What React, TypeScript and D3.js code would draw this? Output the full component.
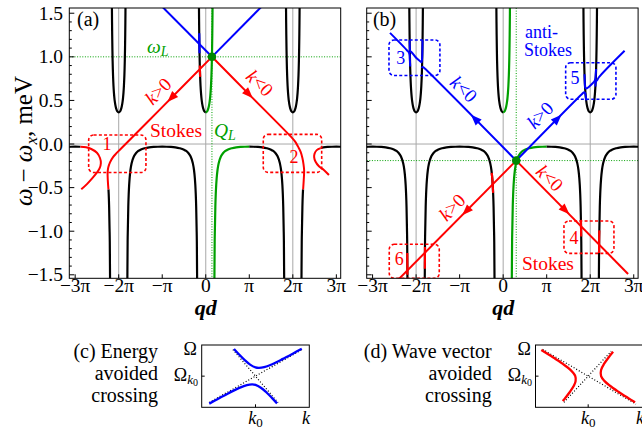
import React from "react";
import * as d3 from "d3";

type P = [number, number];

// ---------------- data (qd in units of π, energy ω-ωx in meV) ----------------
const xTickVals = [-3, -2, -1, 0, 1, 2, 3];
const xTickLabels = ["−3π", "−2π", "−π", "0", "π", "2π", "3π"];
const yTickVals = [-1.5, -1, -0.5, 0, 0.5, 1, 1.5];
const yTickLabels = ["−1.5", "−1.0", "−0.5", "0.0", "0.5", "1.0", "1.5"];
const yMinorVals = [-1.5, -1.4, -1.3, -1.2, -1.1, -1, -0.9, -0.8, -0.7, -0.6, -0.5, -0.4, -0.3, -0.2, -0.1, 0, 0.1, 0.2, 0.3, 0.4, 0.5, 0.6, 0.7, 0.8, 0.9, 1, 1.1, 1.2, 1.3, 1.4, 1.5];
const gridQ = [-2, 0, 2];

// upper polariton band, half shape: [offset from 2πn, E]
const upperHalf: P[] = [[0, 0.362], [0.03, 0.373], [0.05, 0.394], [0.07, 0.43], [0.09, 0.489], [0.1, 0.533], [0.11, 0.59], [0.12, 0.669], [0.13, 0.782], [0.135, 0.86], [0.14, 0.958], [0.145, 1.086], [0.15, 1.259], [0.153, 1.395], [0.155, 1.505], [0.157, 1.64]];
// lower polariton band, half arch: [offset from (2n+1)π, E]
const lowerHalf: P[] = [[0, -0.03], [0.1, -0.031], [0.2, -0.0335], [0.3, -0.0386], [0.4, -0.048], [0.5, -0.065], [0.55, -0.08], [0.6, -0.103], [0.65, -0.141], [0.7, -0.214], [0.73, -0.298], [0.75, -0.396], [0.76, -0.469], [0.77, -0.571], [0.78, -0.724], [0.79, -0.975], [0.795, -1.12], [0.8, -1.458], [0.803, -1.7]];

// panel (a): pump at ωL
const pumpA: P = [0.142, 1.0];
const blueA: P[][] = [[[0.142, 1.0], [-1.05, 1.6]], [[0.142, 1.0], [1.33, 1.6]]];
const redA_left: P[] = [[0.142, 1.0], [-1.0, 0.423], [-1.95, -0.055], [-2.05, -0.105], [-2.13, -0.15], [-2.2, -0.21], [-2.24, -0.27], [-2.255, -0.33], [-2.25, -0.42], [-2.236, -0.52]];
const redA_C: P[] = [[-2.88, -0.031], [-2.75, -0.038], [-2.62, -0.06], [-2.5, -0.1], [-2.43, -0.16], [-2.41, -0.22], [-2.44, -0.28], [-2.52, -0.34], [-2.62, -0.4], [-2.73, -0.46], [-2.86, -0.52]];
const redA_right: P[] = [[0.142, 1.0], [1.0, 0.567], [1.95, 0.087], [2.05, 0.03], [2.12, -0.03], [2.18, -0.09], [2.22, -0.16], [2.245, -0.23], [2.26, -0.3], [2.25, -0.42], [2.237, -0.52]];
const redA_paren: P[] = [[2.64, -0.047], [2.55, -0.07], [2.5, -0.11], [2.49, -0.15], [2.52, -0.2], [2.6, -0.255], [2.72, -0.3], [2.83, -0.355]];
const arrowsA = [{ tip: [-0.8, 0.524] as P, color: "#ff0000" }, { tip: [1.0, 0.567] as P, color: "#ff0000" }];
const boxesA = [{ q: [-2.69, -1.374], e: [0.103, -0.327], n: "1", at: [-2.267, -0.07] as P }, { q: [1.321, 2.663], e: [0.111, -0.325], n: "2", at: [2.026, -0.215] as P }];

// panel (b): pump below the exciton
const pumpB: P = [0.3, -0.19];
// anti-Stokes branches (energy avoided crossings in boxes 3 and 5)
const blueB_3a: P[] = [[-2.6, 1.275], [-2.2, 1.07], [-2.163, 1.046], [-2.148, 1.02], [-2.144, 0.98], [-2.139, 0.93], [-2.136, 0.89]];
const blueB_3b: P[] = [[-2.149, 1.19], [-2.146, 1.12], [-2.141, 1.08], [-2.13, 1.062], [-2.1, 1.05], [-2.0, 0.99], [-1.9, 0.948], [-1.875, 0.938], [-1.866, 0.96], [-1.86, 1.0], [-1.855, 1.1], [-1.852, 1.19]];
const blueB_3c: P[] = [[-1.864, 0.87], [-1.858, 0.882], [-1.84, 0.882], [-1.8, 0.866], [0.3, -0.19]];
const blueB_5a: P[] = [[0.3, -0.19], [1.8, 0.568], [1.862, 0.595], [1.88, 0.588], [1.889, 0.572], [1.897, 0.55], [1.908, 0.5]];
const blueB_5b: P[] = [[1.869, 0.8], [1.874, 0.72], [1.879, 0.672], [1.888, 0.645], [1.91, 0.636], [1.96, 0.652], [2.05, 0.694], [2.1, 0.722], [2.116, 0.745], [2.124, 0.78], [2.135, 0.86]];
const blueB_5c: P[] = [[2.119, 0.66], [2.123, 0.698], [2.135, 0.72], [2.16, 0.732], [2.2, 0.766], [2.79, 1.07]];
const redB: P[][] = [[[0.3, -0.19], [-2.4, -1.55]], [[0.3, -0.19], [2.87, -1.49]]];
const arrowsB = [
  { tip: [-0.66, 0.295] as P, color: "#0000ff" }, { tip: [1.26, 0.295] as P, color: "#0000ff" },
  { tip: [-0.86, -0.776] as P, color: "#ff0000" }, { tip: [1.44, -0.766] as P, color: "#ff0000" },
];
const boxesB = [
  { q: [-2.623, -1.453], e: [1.193, 0.786], n: "3", at: [-2.35, 0.92] as P, c: "#0000ff" },
  { q: [1.436, 2.591], e: [0.932, 0.513], n: "5", at: [1.65, 0.69] as P, c: "#0000ff" },
  { q: [1.397, 2.545], e: [-0.883, -1.254], n: "4", at: [1.63, -1.145] as P, c: "#ff0000" },
  { q: [-2.617, -1.468], e: [-1.15, -1.54], n: "6", at: [-2.39, -1.385] as P, c: "#ff0000" },
];

// schematic (c): energy avoided crossing, unit coords
const cUpper: P[] = [[0.3, 0.937], [0.35, 0.844], [0.4, 0.758], [0.45, 0.685], [0.5, 0.64], [0.53, 0.632], [0.58, 0.643], [0.65, 0.688], [0.75, 0.773], [0.85, 0.865], [0.93, 0.941]];
const cLower: P[] = [[0.07, 0.059], [0.15, 0.135], [0.25, 0.227], [0.35, 0.312], [0.42, 0.357], [0.47, 0.368], [0.5, 0.36], [0.55, 0.315], [0.6, 0.242], [0.65, 0.156], [0.7, 0.063]];
const cDot: P[][] = [[[0.07, 0.076], [0.93, 0.924]], [[0.29, 0.926], [0.71, 0.074]]];
// schematic (d): wave vector avoided crossing
const dLeft: P[] = [[0.054, 0.92], [0.165, 0.8], [0.251, 0.7], [0.325, 0.6], [0.37, 0.5], [0.373, 0.42], [0.358, 0.35], [0.321, 0.25], [0.277, 0.15], [0.253, 0.1]];
const dRight: P[] = [[0.722, 0.89], [0.68, 0.8], [0.639, 0.7], [0.61, 0.6], [0.61, 0.5], [0.643, 0.42], [0.689, 0.35], [0.771, 0.25], [0.861, 0.15], [0.926, 0.08]];
const dDot: P[][] = [[[0.066, 0.93], [0.934, 0.05]], [[0.265, 0.08], [0.704, 0.9]]];

// ---------------- helpers ----------------
const RED = "#ff0000", BLUE = "#0000ff", GREEN = "#00a000", GRAY = "#a8a8a8";
const FONT = "'Liberation Serif', 'Times New Roman', serif";
const FS = 19.5;

const rightOf = (half: P[], c: number): P[] => half.map(([u, e]) => [c + u, e] as P);
const leftOf = (half: P[], c: number): P[] => half.map(([u, e]) => [c - u, e] as P).reverse();
const full = (half: P[], c: number): P[] => [...leftOf(half, c), ...rightOf(half, c).slice(1)];

function subBy(pts: P[], k: 0 | 1, lo: number, hi: number): P[] {
  const out: P[] = [];
  for (let i = 0; i < pts.length; i++) {
    const p = pts[i];
    if (i > 0) {
      const q = pts[i - 1];
      const cr: [number, P][] = [];
      for (const b of [lo, hi]) {
        if ((q[k] - b) * (p[k] - b) < 0) {
          const t = (b - q[k]) / (p[k] - q[k]);
          cr.push([t, [q[0] + t * (p[0] - q[0]), q[1] + t * (p[1] - q[1])]]);
        }
      }
      cr.sort((a, b) => a[0] - b[0]).forEach((c) => out.push(c[1]));
    }
    if (p[k] >= lo && p[k] <= hi) out.push(p);
  }
  return out;
}

const Y0 = 8, Y1 = 278.3;
const yScale = d3.scaleLinear().domain([-1.54, 1.56]).range([Y1, Y0]);

function Panel({ x0, x1, id, children }: { x0: number; x1: number; id: string; children: (xs: d3.ScaleLinear<number, number>) => React.ReactNode }) {
  const xs = d3.scaleLinear().domain([-3.135, 3.1]).range([x0, x1]);
  return (
    <g>
      <defs>
        <clipPath id={"clip" + id}>
          <rect x={x0} y={Y0} width={x1 - x0} height={Y1 - Y0} />
        </clipPath>
      </defs>
      <g clipPath={`url(#clip${id})`}>
        {gridQ.map((q) => <line key={q} x1={xs(q)} x2={xs(q)} y1={Y0} y2={Y1} stroke={GRAY} strokeWidth={1} />)}
        <line x1={x0} x2={x1} y1={yScale(0)} y2={yScale(0)} stroke={GRAY} strokeWidth={1} />
        {children(xs)}
      </g>
      <rect x={x0} y={Y0} width={x1 - x0} height={Y1 - Y0} fill="none" stroke="#000" strokeWidth={1} />
      {yMinorVals.map((v) => {
        const major = Math.abs(v * 2 - Math.round(v * 2)) < 1e-6;
        return <line key={v} x1={x0} x2={x0 + (major ? 5 : 2.5)} y1={yScale(v)} y2={yScale(v)} stroke="#000" strokeWidth={1} />;
      })}
      {xTickVals.map((v) => <line key={v} x1={xs(v)} x2={xs(v)} y1={Y1} y2={Y1 - 4} stroke="#000" strokeWidth={1} />)}
      {xTickVals.map((v, i) => (
        <text key={"l" + v} x={xs(v)} y={291.5} textAnchor="middle" fontSize={FS} fontFamily={FONT}>{xTickLabels[i]}</text>
      ))}
      <text x={xs(0)} y={315} textAnchor="middle" fontSize={22} fontFamily={FONT} fontStyle="italic" fontWeight="bold">qd</text>
    </g>
  );
}

function Curve({ pts, xs, ys, color, w = 2.2, curve = d3.curveMonotoneX, dash }: any) {
  const gen = d3.line<P>().x((d) => xs(d[0])).y((d) => ys(d[1])).curve(curve);
  return <path d={gen(pts) || ""} fill="none" stroke={color} strokeWidth={w} strokeDasharray={dash} strokeLinejoin="round" strokeLinecap="butt" />;
}

function Arrow({ xs, tip, from, color }: any) {
  const x = xs(tip[0]), y = yScale(tip[1]);
  const ang = (Math.atan2(y - yScale(from[1]), x - xs(from[0])) * 180) / Math.PI;
  return <path d="M5,0 L-6,-4.2 L-6,4.2 Z" transform={`translate(${x},${y}) rotate(${ang})`} fill={color} />;
}

function Box({ xs, b, color }: any) {
  const xa = xs(b.q[0]), xb = xs(b.q[1]), ya = yScale(b.e[0]), yb = yScale(b.e[1]);
  return (
    <g>
      <rect x={xa} y={ya} width={xb - xa} height={yb - ya} rx={5} fill="none" stroke={color} strokeWidth={1.6} strokeDasharray="3 2.2" />
      <text x={xs(b.at[0])} y={yScale(b.at[1])} textAnchor="middle" fontSize={18} fontFamily={FONT} fill={color}>{b.n}</text>
    </g>
  );
}

function LineLabel({ xs, at, rot, color, sign }: any) {
  return (
    <text transform={`translate(${xs(at[0])},${yScale(at[1])}) rotate(${rot})`} textAnchor="middle" dominantBaseline="central" fontSize={19} fontFamily={FONT} fill={color}>
      <tspan fontStyle="italic">k</tspan>{sign}0
    </text>
  );
}

export default function App() {
  const ys = yScale;
  const xa0 = 69.3, xa1 = 340.7, xb0 = 366.7, xb1 = 638.1;
  const CR = d3.curveCatmullRom;

  // (c),(d) schematic scales
  const cx = d3.scaleLinear().domain([0, 1]).range([201.7, 309.3]);
  const cy = d3.scaleLinear().domain([0, 1]).range([407.3, 345]);
  const dx = d3.scaleLinear().domain([0, 1]).range([535.5, 643]);
  const dy = cy;

  return (
    <svg width={642} height={433} style={{ position: "absolute", left: 0, top: 0, background: "#fff" }} fontFamily={FONT}>
      <rect width={642} height={433} fill="#fff" />
      {/* y axis label */}
      <text transform="translate(32,141) rotate(-90)" textAnchor="middle" fontSize={25} fontFamily={FONT}>
        <tspan fontStyle="italic">ω</tspan><tspan dx={6}>−</tspan><tspan dx={6} fontStyle="italic">ω</tspan><tspan fontStyle="italic" fontSize={17} dy={5}>x</tspan><tspan dy={-5}>, meV</tspan>
      </text>
      {yTickVals.map((v, i) => (
        <text key={v} x={63} y={ys(v)} textAnchor="end" dominantBaseline="central" fontSize={FS} fontFamily={FONT}>{yTickLabels[i]}</text>
      ))}

      {/* ---------- panel (a) ---------- */}
      <Panel x0={xa0} x1={xa1} id="a">
        {(xs) => (
          <g>
            <line x1={xs(pumpA[0])} x2={xs(pumpA[0])} y1={Y0} y2={Y1} stroke={GREEN} strokeWidth={1} strokeDasharray="1 1.6" />
            <line x1={xa0} x2={xa1} y1={ys(pumpA[1])} y2={ys(pumpA[1])} stroke={GREEN} strokeWidth={1} strokeDasharray="1 1.6" />
            <Curve xs={xs} ys={ys} color="#000" pts={full(upperHalf, -2)} />
            <Curve xs={xs} ys={ys} color="#000" pts={full(upperHalf, 2)} />
            <Curve xs={xs} ys={ys} color="#000" pts={leftOf(upperHalf, 0)} />
            <Curve xs={xs} ys={ys} color={GREEN} pts={rightOf(upperHalf, 0)} />
            <Curve xs={xs} ys={ys} color="#000" pts={full(lowerHalf, -1)} />
            <Curve xs={xs} ys={ys} color={GREEN} pts={leftOf(lowerHalf, 1)} />
            <Curve xs={xs} ys={ys} color="#000" pts={rightOf(lowerHalf, 1)} />
            <Curve xs={xs} ys={ys} color="#000" pts={subBy(full(lowerHalf, -3), 0, -3.3, -2.88)} />
            <Curve xs={xs} ys={ys} color="#000" pts={subBy(rightOf(lowerHalf, -3), 1, -1.8, -0.52)} />
            <Curve xs={xs} ys={ys} color="#000" pts={subBy(leftOf(lowerHalf, 3), 1, -1.8, -0.52)} />
            <Curve xs={xs} ys={ys} color="#000" pts={subBy(full(lowerHalf, 3), 0, 2.64, 3.3)} />
            <Curve xs={xs} ys={ys} color={BLUE} pts={subBy(leftOf(upperHalf, 0), 1, 1.04, 1.27)} />
            <Curve xs={xs} ys={ys} color={RED} pts={subBy(leftOf(upperHalf, 0), 1, 0.77, 0.9)} />
            {blueA.map((l, i) => <Curve key={i} xs={xs} ys={ys} color={BLUE} w={2} pts={l} curve={d3.curveLinear} />)}
            <Curve xs={xs} ys={ys} color={RED} w={2} pts={redA_left} curve={CR} />
            <Curve xs={xs} ys={ys} color={RED} w={2} pts={redA_right} curve={CR} />
            <Curve xs={xs} ys={ys} color={RED} w={2} pts={redA_C} curve={CR} />
            <Curve xs={xs} ys={ys} color={RED} w={2} pts={redA_paren} curve={CR} />
            {arrowsA.map((a, i) => <Arrow key={i} xs={xs} tip={a.tip} from={pumpA} color={a.color} />)}
            {boxesA.map((b, i) => <Box key={i} xs={xs} b={b} color={RED} />)}
            <circle cx={xs(pumpA[0])} cy={ys(pumpA[1])} r={4.3} fill="#008800" />
            <LineLabel xs={xs} at={[-1.098, 0.608]} rot={-45} color={RED} sign=">" />
            <LineLabel xs={xs} at={[1.245, 0.7]} rot={45} color={RED} sign="<" />
            <text x={xs(-0.684)} y={ys(0.08)} textAnchor="middle" fontSize={FS} fill={RED}>Stokes</text>
            <text x={xs(-1.35)} y={ys(1.044)} fontSize={FS} fill={GREEN} fontStyle="italic">ω<tspan fontSize={14} dy={3}>L</tspan></text>
            <text x={xs(0.188)} y={ys(0.08)} fontSize={FS} fill={GREEN} fontStyle="italic">Q<tspan fontSize={14} dy={3}>L</tspan></text>
            <text x={xs(-2.958)} y={ys(1.353)} fontSize={20}>(a)</text>
          </g>
        )}
      </Panel>

      {/* ---------- panel (b) ---------- */}
      <Panel x0={xb0} x1={xb1} id="b">
        {(xs) => (
          <g>
            <line x1={xs(pumpB[0])} x2={xs(pumpB[0])} y1={Y0} y2={Y1} stroke={GREEN} strokeWidth={1} strokeDasharray="1 1.6" />
            <line x1={xb0} x2={xb1} y1={ys(pumpB[1])} y2={ys(pumpB[1])} stroke={GREEN} strokeWidth={1} strokeDasharray="1 1.6" />
            <Curve xs={xs} ys={ys} color="#000" pts={full(upperHalf, -2)} />
            <Curve xs={xs} ys={ys} color="#000" pts={full(upperHalf, 2)} />
            <Curve xs={xs} ys={ys} color="#000" pts={leftOf(upperHalf, 0)} />
            <Curve xs={xs} ys={ys} color={GREEN} pts={rightOf(upperHalf, 0)} />
            <Curve xs={xs} ys={ys} color="#000" pts={full(lowerHalf, -3)} />
            <Curve xs={xs} ys={ys} color="#000" pts={full(lowerHalf, -1)} />
            <Curve xs={xs} ys={ys} color={GREEN} pts={leftOf(lowerHalf, 1)} />
            <Curve xs={xs} ys={ys} color="#000" pts={rightOf(lowerHalf, 1)} />
            <Curve xs={xs} ys={ys} color="#000" pts={full(lowerHalf, 3)} />
            <Curve xs={xs} ys={ys} color={RED} pts={subBy(rightOf(lowerHalf, -1), 1, -0.56, -0.33)} />
            <Curve xs={xs} ys={ys} color={RED} pts={subBy(leftOf(lowerHalf, -1), 1, -1.43, -1.18)} />
            <Curve xs={xs} ys={ys} color={RED} pts={subBy(rightOf(lowerHalf, -3), 1, -1.5, -1.25)} />
            <Curve xs={xs} ys={ys} color={RED} pts={subBy(rightOf(lowerHalf, 1), 1, -1.06, -0.87)} />
            <Curve xs={xs} ys={ys} color={RED} pts={subBy(leftOf(lowerHalf, 3), 1, -1.25, -0.99)} />
            {[blueB_3a, blueB_3b, blueB_3c, blueB_5a, blueB_5b, blueB_5c].map((l, i) => (
              <Curve key={"bb" + i} xs={xs} ys={ys} color={BLUE} w={2} pts={l} curve={CR} />
            ))}
            {redB.map((l, i) => <Curve key={"r" + i} xs={xs} ys={ys} color={RED} w={2} pts={l} curve={d3.curveLinear} />)}
            {arrowsB.map((a, i) => <Arrow key={i} xs={xs} tip={a.tip} from={pumpB} color={a.color} />)}
            {boxesB.map((b, i) => <Box key={i} xs={xs} b={b} color={b.c} />)}
            <circle cx={xs(pumpB[0])} cy={ys(pumpB[1])} r={4.3} fill="#008800" />
            <LineLabel xs={xs} at={[-0.901, 0.631]} rot={45} color={BLUE} sign="<" />
            <LineLabel xs={xs} at={[0.845, 0.333]} rot={-45} color={BLUE} sign=">" />
            <LineLabel xs={xs} at={[-1.176, -0.723]} rot={-45} color={RED} sign=">" />
            <LineLabel xs={xs} at={[1.075, -0.39]} rot={45} color={RED} sign="<" />
            <text x={xs(0.501)} y={ys(1.22)} fontSize={18} fill={BLUE}>anti-</text>
            <text x={xs(0.478)} y={ys(1.013)} fontSize={18} fill={BLUE}>Stokes</text>
            <text x={xs(0.432)} y={ys(-1.445)} fontSize={FS} fill={RED}>Stokes</text>
            <text x={xs(-2.991)} y={ys(1.353)} fontSize={20}>(b)</text>
          </g>
        )}
      </Panel>

      {/* ---------- (c) ---------- */}
      <g fontFamily={FONT}>
        <text x={158} y={358} textAnchor="end" fontSize={20}>(c) Energy</text>
        <text x={158} y={380} textAnchor="end" fontSize={20}>avoided</text>
        <text x={158} y={401.5} textAnchor="end" fontSize={20}>crossing</text>
        {cDot.map((l, i) => <Curve key={i} xs={cx} ys={cy} color="#000" w={1.2} dash="1 2" pts={l} curve={d3.curveLinear} />)}
        <Curve xs={cx} ys={cy} color={BLUE} w={2.3} pts={cUpper} curve={CR} />
        <Curve xs={cx} ys={cy} color={BLUE} w={2.3} pts={cLower} curve={CR} />
        <rect x={201.7} y={345} width={107.6} height={62.3} fill="none" stroke="#000" strokeWidth={1} />
        <line x1={cx(0.5)} x2={cx(0.5)} y1={cy(0)} y2={cy(0) - 3} stroke="#000" />
        <line x1={cx(0)} x2={cx(0) + 3} y1={cy(0.5)} y2={cy(0.5)} stroke="#000" />
        <text x={197} y={355} textAnchor="end" fontSize={18}>Ω</text>
        <text x={198} y={381} textAnchor="end" fontSize={18}>Ω<tspan fontSize={13} fontStyle="italic" dy={3}>k</tspan><tspan fontSize={10} dy={2}>0</tspan></text>
        <text x={cx(0.5)} y={424} textAnchor="middle" fontSize={18}><tspan fontStyle="italic">k</tspan><tspan fontSize={13} dy={3}>0</tspan></text>
        <text x={306} y={424} textAnchor="middle" fontSize={18} fontStyle="italic">k</text>
      </g>

      {/* ---------- (d) ---------- */}
      <g fontFamily={FONT}>
        <text x={491.7} y={358} textAnchor="end" fontSize={20}>(d) Wave vector</text>
        <text x={491.7} y={380} textAnchor="end" fontSize={20}>avoided</text>
        <text x={491.7} y={401.5} textAnchor="end" fontSize={20}>crossing</text>
        {dDot.map((l, i) => <Curve key={i} xs={dx} ys={dy} color="#000" w={1.2} dash="1 2" pts={l} curve={d3.curveLinear} />)}
        <Curve xs={dx} ys={dy} color={RED} w={2.3} pts={dLeft} curve={CR} />
        <Curve xs={dx} ys={dy} color={RED} w={2.3} pts={dRight} curve={CR} />
        <rect x={535.5} y={345} width={107.5} height={62.3} fill="none" stroke="#000" strokeWidth={1} />
        <line x1={dx(0.49)} x2={dx(0.49)} y1={dy(0)} y2={dy(0) - 3} stroke="#000" />
        <line x1={dx(0)} x2={dx(0) + 3} y1={dy(0.5)} y2={dy(0.5)} stroke="#000" />
        <text x={531} y={355} textAnchor="end" fontSize={18}>Ω</text>
        <text x={532} y={381} textAnchor="end" fontSize={18}>Ω<tspan fontSize={13} fontStyle="italic" dy={3}>k</tspan><tspan fontSize={10} dy={2}>0</tspan></text>
        <text x={dx(0.49)} y={424} textAnchor="middle" fontSize={18}><tspan fontStyle="italic">k</tspan><tspan fontSize={13} dy={3}>0</tspan></text>
        <text x={640} y={424} textAnchor="middle" fontSize={18} fontStyle="italic">k</text>
      </g>
    </svg>
  );
}
